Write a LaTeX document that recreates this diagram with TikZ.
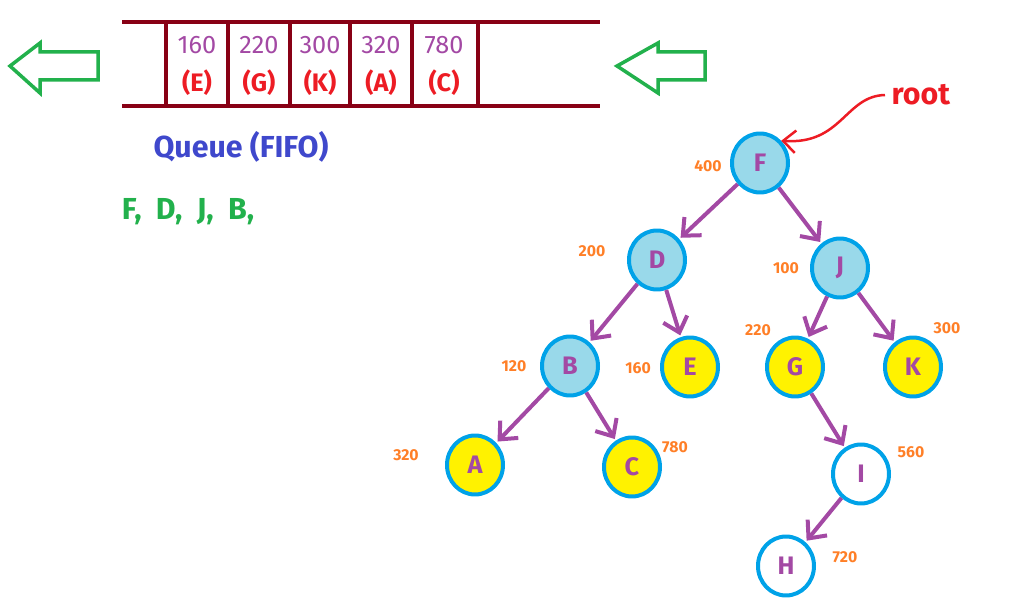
\documentclass[tikz,border=0pt]{standalone}
\usepackage{fontspec}
\setmainfont{Fira Sans}
\usetikzlibrary{arrows.meta, shapes.geometric}

\definecolor{qred}{HTML}{880015}
\definecolor{nodeblue}{HTML}{00A2E8}
\definecolor{lightblue}{HTML}{99D9EA}
\definecolor{nodeyellow}{HTML}{FFF200}
\definecolor{violet}{HTML}{A349A4}
\definecolor{orng}{HTML}{FF7F27}
\definecolor{rootred}{HTML}{ED1C24}
\definecolor{grn}{HTML}{22B14C}
\definecolor{navy}{HTML}{3F48CC}

\begin{document}
\begin{tikzpicture}[x=0.02cm, y=-0.02cm, thick,
    vertex/.style={ellipse, draw=nodeblue, line width=0.08cm, minimum width=1.12cm,
                   minimum height=1.18cm, inner sep=0pt, text=violet, font=\Large\bfseries},
    visited/.style={vertex, fill=lightblue},
    queued/.style={vertex, fill=nodeyellow},
    weight/.style={text=orng, font=\small\bfseries},
    edge/.style={violet, line width=0.08cm, -{Straight Barb[length=0.28cm, width=0.5cm]},
                 shorten >=1pt},
    qline/.style={qred, line width=0.08cm},
    bigarrow/.style={grn, line width=0.07cm, line join=miter}]
    \useasboundingbox (0,0) rectangle (1015,615);

    % Queue:
    \draw[qline] (122,22) -- (600,22);
    \draw[qline] (122,106) -- (600,106);
    \foreach \x in {166,228,290,350,412,478}
        \draw[qline] (\x,22) -- (\x,106);
    \foreach \x/\w/\v [count=\i] in {197/160/E, 259/220/G, 320/300/K, 381/320/A, 444/780/C} {
        \node[text=violet, font=\Large] (w\i) at (\x,45) {\w};
        \node[text=rootred, font=\Large\bfseries] (q\i) at (\x,83) {(\v)};
    }

    % In and out arrows:
    \draw[bigarrow] (10,66) -- (40,43) -- (40,52) -- (98,52) -- (98,80) -- (40,80) -- (40,93) -- cycle;
    \draw[bigarrow] (617,66) -- (658,43) -- (658,52) -- (705,52) -- (705,80) -- (658,80) -- (658,93) -- cycle;

    \node[text=navy, font=\LARGE\bfseries] (qtitle) at (241,147) {Queue (FIFO)};
    \node[text=grn, font=\LARGE\bfseries] (order) at (188,212) {F,~ D,~ J,~ B,};

    % Tree:
    \node[visited] (F) at (760,163) {F};
    \node[visited] (D) at (657,260) {D};
    \node[visited] (J) at (840,268) {J};
    \node[visited] (B) at (570,366) {B};
    \node[queued] (E) at (690,367) {E};
    \node[queued] (G) at (795,367) {G};
    \node[queued] (K) at (913,367) {K};
    \node[queued] (A) at (475,465) {A};
    \node[queued] (C) at (632,467) {C};
    \node[vertex] (I) at (861,474) {I};
    \node[vertex] (H) at (786,566) {H};

    \draw[edge] (F) -- (D);
    \draw[edge] (F) -- (J);
    \draw[edge] (D) -- (B);
    \draw[edge] (D) -- (E);
    \draw[edge] (J) -- (G);
    \draw[edge] (J) -- (K);
    \draw[edge] (B) -- (A);
    \draw[edge] (B) -- (C);
    \draw[edge] (G) -- (I);
    \draw[edge] (I) -- (H);

    % Weights:
    \node[weight] (wF) at (708,166) {400};
    \node[weight] (wD) at (592,251) {200};
    \node[weight] (wJ) at (786,268) {100};
    \node[weight] (wB) at (514,366) {120};
    \node[weight] (wE) at (638,368) {160};
    \node[weight] (wG) at (758,330) {220};
    \node[weight] (wK) at (947,328) {300};
    \node[weight] (wA) at (406,455) {320};
    \node[weight] (wC) at (675,447) {780};
    \node[weight] (wI) at (911,452) {560};
    \node[weight] (wH) at (845,557) {720};

    % Root pointer:
    \node[text=rootred, font=\LARGE\bfseries, anchor=west] (root) at (885,95) {root};
    \draw[rootred, line width=0.05cm, -{Straight Barb[length=0.25cm, width=0.45cm]}]
        (root.west) .. controls (845,96) and (842,145) .. (F.north east);
\end{tikzpicture}
\end{document}
